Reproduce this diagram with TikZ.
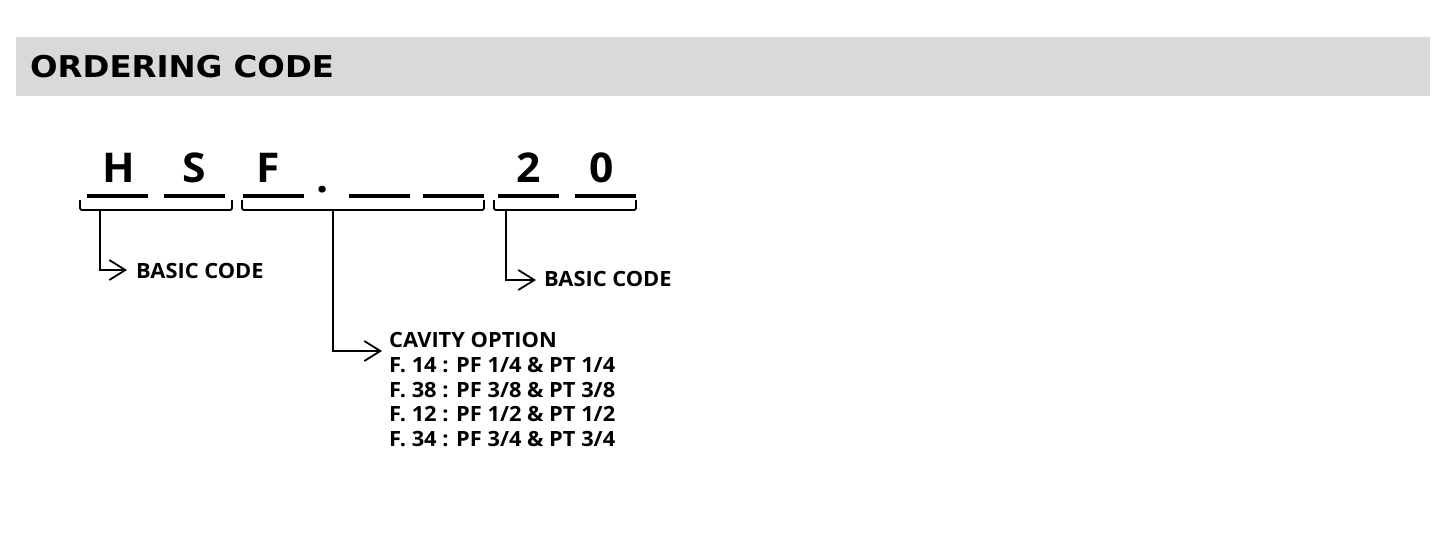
\documentclass[tikz,border=0pt]{standalone}
\usepackage{fontspec}
\setmainfont{Open Sans}[FakeStretch=1.04]
\newfontfamily\headfont{DejaVu Sans}[FakeStretch=1.08]
\usetikzlibrary{arrows.meta,positioning}
\definecolor{bandgray}{HTML}{D9D9D9}

\begin{document}
\begin{tikzpicture}[x=1pt,y=-1pt,
	slot/.style={line width=4pt},
	brace/.style={line width=1.8pt,rounded corners=2pt},
	lead/.style={line width=1.8pt,-{Straight Barb[length=16pt,width=20pt]}},
	letter/.style={font=\bfseries\fontsize{41}{41}\selectfont,inner sep=0pt,anchor=base},
	note/.style={font=\bfseries\fontsize{21}{24.8}\selectfont,inner sep=0pt,align=left}]
	\useasboundingbox (0,0) rectangle (1452,533);
	
	% title band
	\fill[bandgray] (16,37) rectangle (1430,96);
	\node[anchor=base west,inner sep=0pt,font=\headfont\bfseries\fontsize{30}{30}\selectfont] (title) at (30,77) {ORDERING CODE};
	
	% code letters
	\node[letter] (h) at (119,182) {H};
	\node[letter] (s) at (194,182) {S};
	\node[letter] (f) at (268,182) {F};
	\node[letter] (dot) at (323,192) {.};
	\node[letter] (two) at (529,182) {2};
	\node[letter] (zero) at (602,182) {0};
	
	% blanks
	\foreach \c in {117,194,273,379,453,528,605}
		\draw[slot] (\c-30.5,196) -- (\c+30.5,196);
	
	% brackets
	\foreach \a/\b in {80/232,242/484,494/636}
		\draw[brace] (\a,200) -- (\a,210) -- (\b,210) -- (\b,200);
	
	\coordinate (st1) at (100,210);
	\coordinate (st2) at (333,210);
	\coordinate (st3) at (506,210);
	
	% leads
	\coordinate (tip1) at (127,270);
	\coordinate (tip2) at (536,280);
	\coordinate (tip3) at (382,351);
	
	\node[note,anchor=west] (basic1) at (136,270.5) {BASIC CODE};
	\node[note,anchor=west] (basic2) at (544,279) {BASIC CODE};
	\node[note,anchor=north west] (cavity) at (389,332) {CAVITY OPTION\\
		F. 14 : PF 1/4 \& PT 1/4\\
		F. 38 : PF 3/8 \& PT 3/8\\
		F. 12 : PF 1/2 \& PT 1/2\\
		F. 34 : PF 3/4 \& PT 3/4};
	
	\draw[lead] (st1) |- (tip1);
	\draw[lead] (st3) |- (tip2);
	\draw[lead] (st2) |- (tip3);
\end{tikzpicture}
\end{document}
